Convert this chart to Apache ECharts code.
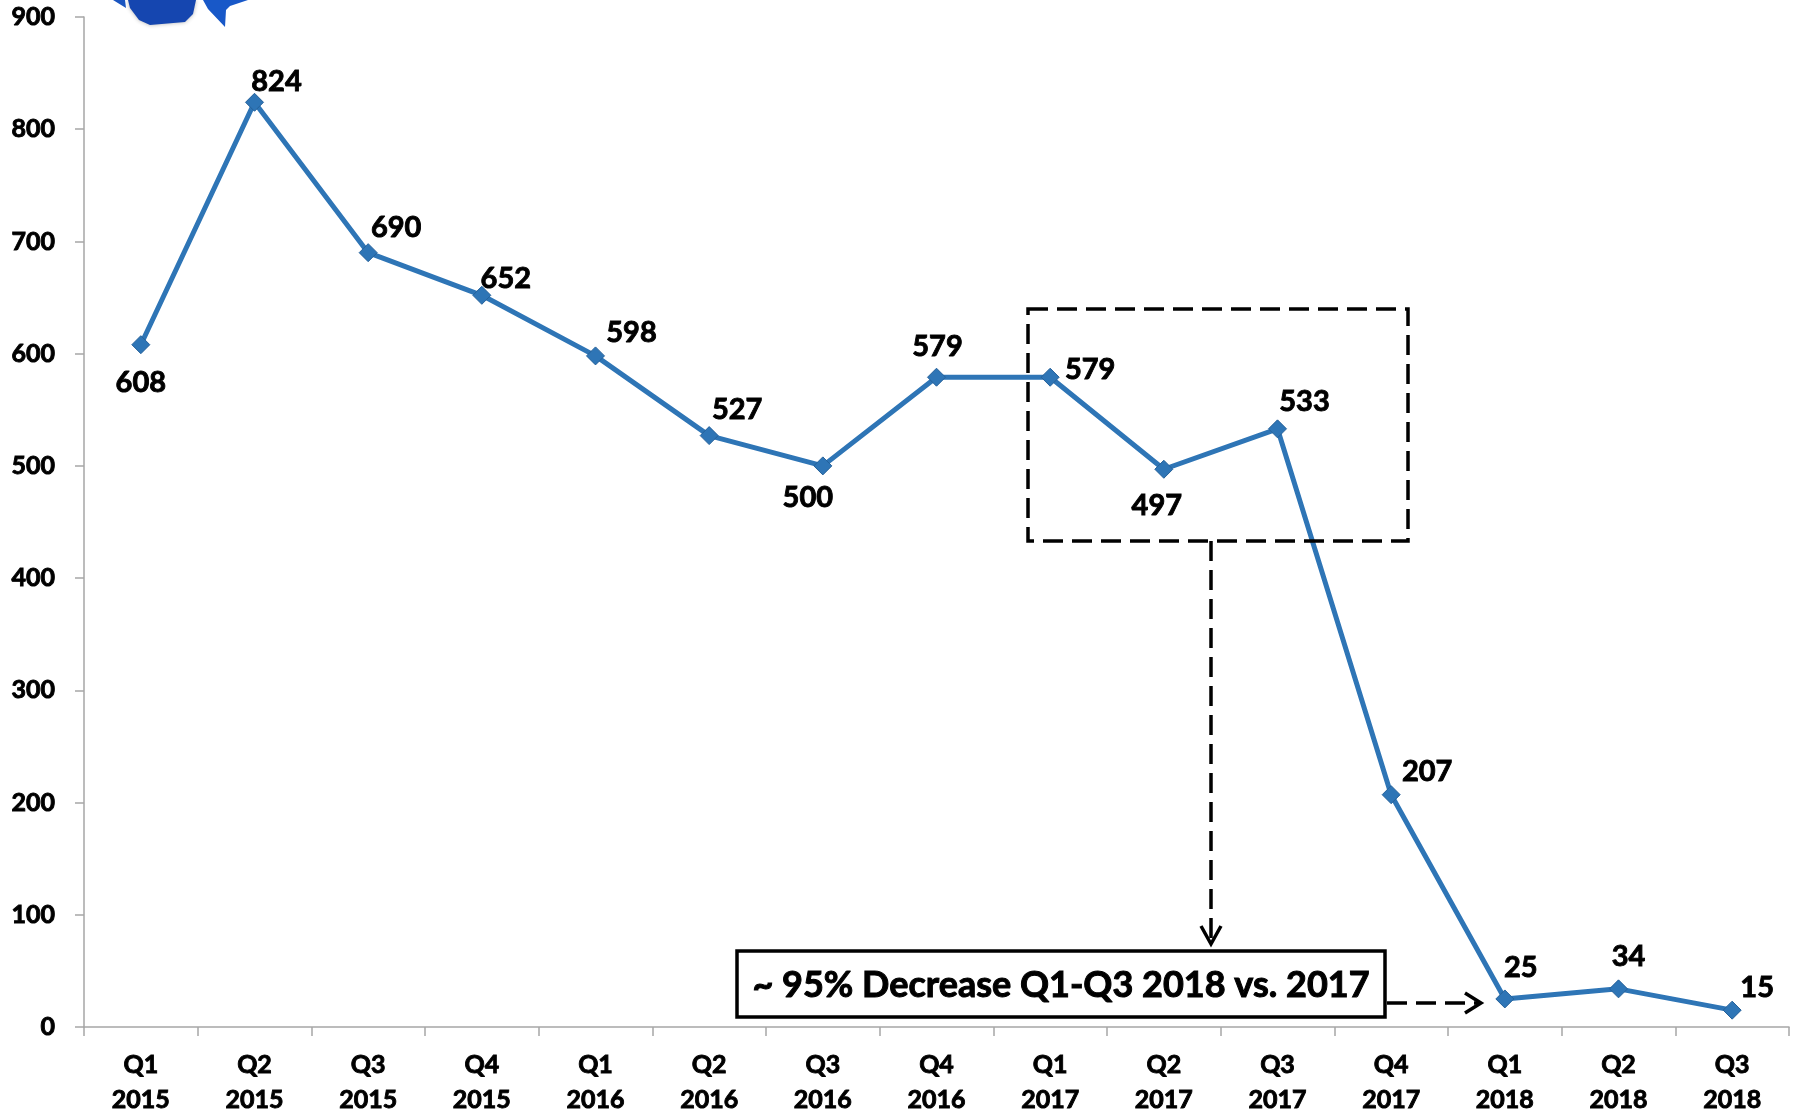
<!DOCTYPE html>
<html><head><meta charset="utf-8">
<script src="https://cdn.jsdelivr.net/npm/echarts@6/dist/echarts.min.js"></script>
<style>html,body{margin:0;padding:0;background:#fff}#c{width:1800px;height:1114px}</style>
</head><body><div id="c"></div>
<script>
const categories = ['Q1\n2015','Q2\n2015','Q3\n2015','Q4\n2015','Q1\n2016','Q2\n2016','Q3\n2016','Q4\n2016','Q1\n2017','Q2\n2017','Q3\n2017','Q4\n2017','Q1\n2018','Q2\n2018','Q3\n2018'];
const values = [608,824,690,652,598,527,500,579,579,497,533,207,25,34,15];
const yMin = 0, yMax = 900, yStep = 100;
const annotationText = '~ 95% Decrease Q1-Q3 2018 vs. 2017';

// label placement offsets (style only)
const labelOffsets = [[0,38],[22,-21],[28,-25],[24,-17],[36,-23],[28,-26],[-15,32],[1,-31],[40,-8],[-7,36],[27,-27],[36,-23],[16,-31],[10,-32],[25,-23]];

const FONT = 'Lato, "Open Sans", sans-serif';
const W = 'bold';
const thick = {textBorderColor:'#000', textBorderWidth:0.9};
const chart = echarts.init(document.getElementById('c'), null, {renderer:'canvas'});
const dash = {lineDash:[20,9]};
chart.setOption({
  animation:false,
  backgroundColor:'#fff',
  grid:{left:84, right:11, top:17, bottom:87, containLabel:false, outerBoundsMode:'none'},
  xAxis:{type:'category', data:categories, boundaryGap:true,
    axisLine:{lineStyle:{color:'#a6a6a6', width:1.5}},
    axisTick:{show:true, alignWithLabel:false, length:9, lineStyle:{color:'#a6a6a6', width:1.5}},
    axisLabel:Object.assign({margin:20, fontFamily:FONT, fontWeight:W, fontSize:25, lineHeight:35, color:'#000', interval:0}, thick),
    splitLine:{show:false}},
  yAxis:{type:'value', min:yMin, max:yMax, interval:yStep,
    axisLine:{show:true, lineStyle:{color:'#a6a6a6', width:1.5}},
    axisTick:{show:true, inside:false, length:9, lineStyle:{color:'#a6a6a6', width:1.5}},
    axisLabel:Object.assign({margin:29, fontFamily:FONT, fontWeight:W, fontSize:25, color:'#000'}, thick),
    splitLine:{show:false}},
  series:[{type:'line', data: values.map((v,i)=>({value:v, label:{offset:labelOffsets[i]}})),
    symbol:'diamond', symbolSize:18,
    lineStyle:{color:'#2e75b6', width:5},
    itemStyle:{color:'#2e75b6', borderColor:'#25619a', borderWidth:1},
    label:Object.assign({show:true, position:'inside', fontFamily:FONT, fontWeight:W, fontSize:29, color:'#000'}, thick),
    z:3}],
  graphic:[
    // logo fragment at top-left
    {type:'polygon', shape:{points:[[128,0],[196,0],[193,14],[185,22],[150,25],[139,20],[130,8]]}, style:{fill:'#1546b0', shadowBlur:4, shadowColor:'rgba(0,0,0,0.3)'}},
    {type:'polygon', shape:{points:[[113,0],[125,0],[126,8]]}, style:{fill:'#1a55c0'}},
    {type:'polygon', shape:{points:[[203,0],[248,0],[230,6],[226,10],[225,27],[208,9]]}, style:{fill:'#1858c8'}},
    // dashed box
    {type:'rect', shape:{x:1028, y:309, width:380, height:232}, style:Object.assign({fill:'none', stroke:'#000', lineWidth:3.5}, dash), z:10},
    // vertical dashed connector
    {type:'line', shape:{x1:1211, y1:541, x2:1211, y2:941}, style:Object.assign({stroke:'#000', lineWidth:3.5}, dash), z:10},
    {type:'polyline', shape:{points:[[1201,926],[1211,944],[1221,926]]}, style:{stroke:'#000', lineWidth:3.5, fill:'none'}, z:10},
    // text box
    {type:'rect', shape:{x:737, y:951, width:648, height:66}, style:{fill:'#fff', stroke:'#000', lineWidth:3.5}, z:10},
    {type:'text', x:1061, y:985, style:{text:annotationText, fontFamily:FONT, fontWeight:W, fontSize:36, fill:'#000', stroke:'#000', lineWidth:1, textAlign:'center', textVerticalAlign:'middle'}, z:11},
    // horizontal dashed arrow
    {type:'line', shape:{x1:1387, y1:1003, x2:1478, y2:1003}, style:Object.assign({stroke:'#000', lineWidth:3.5}, dash), z:10},
    {type:'polyline', shape:{points:[[1465,993],[1481,1003],[1465,1013]]}, style:{stroke:'#000', lineWidth:3.5, fill:'none'}, z:10}
  ]
});
</script></body></html>
